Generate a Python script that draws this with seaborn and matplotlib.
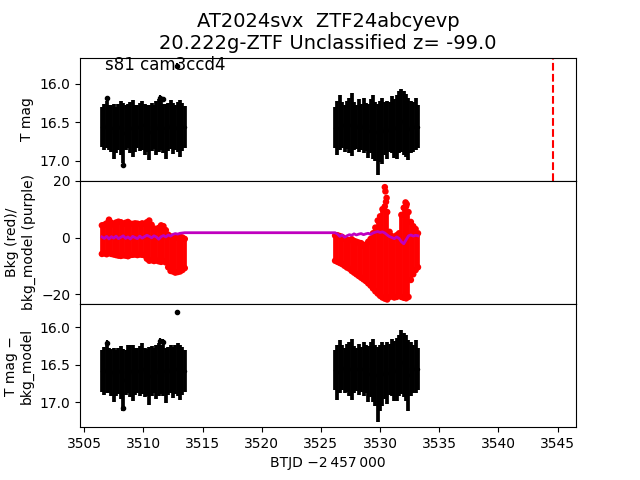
import numpy as np
import matplotlib
matplotlib.use("Agg")
import matplotlib.pyplot as plt
import seaborn as sns

# time stamps of the two sectors (BTJD - 2457000)
t1 = [3506.5, 3506.7, 3506.9, 3507.1, 3507.3, 3507.5, 3507.7, 3507.9, 3508.1, 3508.3,
      3508.5, 3508.7, 3508.9, 3509.1, 3509.3, 3509.5, 3509.7, 3509.9, 3510.1, 3510.3,
      3510.5, 3510.7, 3510.9, 3511.1, 3511.3, 3511.5, 3511.7, 3511.9, 3512.1, 3512.3,
      3512.5, 3512.7, 3512.9, 3513.1, 3513.3, 3513.5]
t2 = [3526.2, 3526.4, 3526.6, 3526.8, 3527.0, 3527.2, 3527.4, 3527.6, 3527.8, 3528.0,
      3528.2, 3528.4, 3528.6, 3528.8, 3529.0, 3529.2, 3529.4, 3529.6, 3529.8, 3530.0,
      3530.2, 3530.4, 3530.6, 3530.8, 3531.0, 3531.2, 3531.4, 3531.6, 3531.8, 3532.0,
      3532.2, 3532.4, 3532.6, 3532.8, 3533.0, 3533.2]

# T mag
mag1 = [16.56, 16.56, 16.53, 16.57, 16.58, 16.62, 16.60, 16.56, 16.57, 16.64,
        16.57, 16.55, 16.57, 16.58, 16.58, 16.56, 16.56, 16.54, 16.59, 16.58,
        16.63, 16.56, 16.56, 16.58, 16.54, 16.54, 16.58, 16.62, 16.56, 16.53,
        16.58, 16.57, 16.56, 16.58, 16.56, 16.56]
err1 = [0.26, 0.30, 0.31, 0.29, 0.30, 0.36, 0.30, 0.30, 0.35, 0.39,
        0.29, 0.29, 0.33, 0.37, 0.31, 0.28, 0.31, 0.32, 0.33, 0.30,
        0.36, 0.31, 0.29, 0.35, 0.34, 0.32, 0.32, 0.36, 0.31, 0.32,
        0.33, 0.29, 0.32, 0.37, 0.31, 0.27]
mag2 = [16.57, 16.57, 16.50, 16.54, 16.58, 16.54, 16.54, 16.53, 16.55, 16.56,
        16.54, 16.56, 16.54, 16.56, 16.61, 16.55, 16.56, 16.62, 16.72, 16.62,
        16.61, 16.58, 16.60, 16.56, 16.53, 16.58, 16.56, 16.50, 16.48, 16.51,
        16.54, 16.59, 16.56, 16.56, 16.52, 16.56]
err2 = [0.27, 0.35, 0.36, 0.30, 0.30, 0.31, 0.36, 0.41, 0.31, 0.29,
        0.34, 0.30, 0.36, 0.31, 0.35, 0.35, 0.42, 0.38, 0.46, 0.40,
        0.43, 0.34, 0.38, 0.32, 0.37, 0.38, 0.42, 0.40, 0.41, 0.41,
        0.41, 0.40, 0.34, 0.32, 0.34, 0.28]
out_t = [3506.9, 3508.3, 3511.4, 3511.7, 3512.85]
out_mag = [16.19, 17.05, 16.18, 16.20, 15.77]
out_err = [0.03, 0.03, 0.03, 0.03, 0.04]

# background (upper / lower edge of the red cloud)
bkg_hi1 = [4.3, 4.5, 5.0, 6.3, 5.2, 4.6, 5.3, 5.6, 5.4, 4.8,
           5.2, 5.5, 4.9, 4.8, 5.0, 4.9, 4.7, 5.0, 4.8, 5.4,
           6.0, 4.5, 3.2, 3.0, 3.4, 4.3, 4.0, 2.6, 1.0, 0.4,
           0.2, 0.0, -0.2, 0.3, 0.0, -0.5]
bkg_lo1 = [-5.8, -5.6, -5.9, -5.5, -5.8, -6.0, -6.2, -6.4, -6.5, -6.3,
           -6.4, -6.6, -6.2, -6.1, -6.0, -6.2, -6.0, -6.1, -6.3, -7.5,
           -8.2, -8.0, -8.3, -8.1, -8.4, -8.6, -8.4, -8.8, -10.5, -11.8,
           -12.0, -12.4, -12.2, -12.0, -11.5, -10.8]
bkg_hi2 = [0.7, 0.8, 0.5, 0.2, -0.5, -0.8, -1.0, -0.6, -1.2, -1.5,
           -1.8, -2.0, -3.0, -2.5, -1.5, -0.5, 1.5, 3.5, 6.0, 7.5,
           10.0, 11.0, 9.0, 2.0, 0.5, 0.0, 0.8, 1.5, 8.0, 10.5,
           11.0, 9.0, 5.5, 4.0, 3.0, 1.5]
bkg_lo2 = [-8.2, -8.6, -9.0, -9.4, -10.0, -10.6, -11.0, -11.8, -12.4, -13.0,
           -13.6, -14.2, -14.8, -15.4, -16.2, -17.0, -18.0, -19.0, -19.8, -20.6,
           -21.2, -21.6, -21.9, -21.0, -20.8, -21.2, -21.0, -20.5, -21.0, -21.3,
           -21.5, -21.0, -15.0, -13.0, -11.5, -10.5]
bkg_out_t = [3530.40, 3530.45, 3530.55, 3530.50, 3532.15, 3532.25]
bkg_out = [17.8, 16.3, 14.0, 12.6, 12.4, 11.8]

# background model
model1 = [0.2, -0.3, 0.4, -0.5, 0.3, -0.2, 0.5, -0.4, 0.1, 0.6,
          -0.3, 0.2, -0.5, 0.4, 0.0, -0.4, 0.5, -0.2, 0.3, 0.8,
          0.4, -0.1, 0.6, 0.2, -0.6, 0.3, 0.7, 0.2, 0.9, 0.5,
          1.1, 1.4, 1.2, 1.5, 1.6, 1.7]
model2 = [1.7, 1.2, 0.4, 0.9, 0.1, 0.6, 1.0, 0.8, 1.3, 0.9,
          1.2, 1.4, 1.0, 1.3, 1.5, 1.1, 1.6, 1.9, 2.1, 1.8,
          2.0, 1.6, 0.9, 0.3, 0.0, -0.4, 0.2, -0.3, -1.5, -2.2,
          -0.8, 0.6, 0.9, 0.5, 0.8, 0.6]

# T mag - bkg_model
cmag1 = [16.58, 16.58, 16.55, 16.58, 16.60, 16.63, 16.61, 16.58, 16.60, 16.70,
         16.60, 16.56, 16.58, 16.61, 16.59, 16.58, 16.58, 16.55, 16.60, 16.60,
         16.65, 16.58, 16.58, 16.60, 16.56, 16.56, 16.58, 16.64, 16.58, 16.56,
         16.60, 16.56, 16.56, 16.60, 16.58, 16.58]
cerr1 = [0.28, 0.32, 0.33, 0.30, 0.31, 0.36, 0.31, 0.31, 0.35, 0.41,
         0.30, 0.32, 0.35, 0.37, 0.31, 0.30, 0.33, 0.34, 0.33, 0.31,
         0.39, 0.33, 0.30, 0.36, 0.35, 0.33, 0.34, 0.37, 0.32, 0.32,
         0.34, 0.33, 0.35, 0.37, 0.32, 0.28]
cmag2 = [16.57, 16.60, 16.52, 16.54, 16.58, 16.54, 16.56, 16.56, 16.56, 16.56,
         16.56, 16.56, 16.56, 16.56, 16.62, 16.56, 16.58, 16.64, 16.76, 16.67,
         16.62, 16.60, 16.61, 16.56, 16.54, 16.58, 16.56, 16.51, 16.46, 16.50,
         16.54, 16.64, 16.56, 16.56, 16.52, 16.56]
cerr2 = [0.27, 0.37, 0.35, 0.30, 0.30, 0.32, 0.36, 0.41, 0.31, 0.29,
         0.34, 0.30, 0.36, 0.32, 0.37, 0.37, 0.42, 0.41, 0.50, 0.44,
         0.43, 0.36, 0.41, 0.34, 0.38, 0.40, 0.42, 0.41, 0.43, 0.43,
         0.44, 0.47, 0.36, 0.32, 0.35, 0.28]
cout_mag = [16.21, 17.07, 16.18, 16.19, 15.80]
cout_err = [0.035, 0.035, 0.035, 0.035, 0.035]

t_disc = 3544.64
title = "AT2024svx  ZTF24abcyevp\n20.222g-ZTF Unclassified z= -99.0"
sector_label = "s81 cam3ccd4"

t = np.concatenate([t1, t2])
mag = np.concatenate([mag1, mag2])
err = np.concatenate([err1, err2])
bkg_hi = np.concatenate([bkg_hi1, bkg_hi2])
bkg_lo = np.concatenate([bkg_lo1, bkg_lo2])
model = np.concatenate([model1, model2])
cmag = np.concatenate([cmag1, cmag2])
cerr = np.concatenate([cerr1, cerr2])

fig, axes = plt.subplots(3, 1, sharex=True, figsize=(6.4, 4.8), dpi=100)
fig.subplots_adjust(hspace=0)

# top: T mag
ax = axes[0]
ax.errorbar(t, mag, yerr=err, fmt='.', color='k', ms=3, elinewidth=2.7, capsize=0)
ax.errorbar(out_t, out_mag, yerr=out_err, fmt='.', color='k', ms=6, elinewidth=1.5, capsize=0)
ax.axvline(t_disc, color='r', ls='--', lw=1.5)
ax.set_ylim(17.26, 15.66)
ax.set_yticks([16.0, 16.5, 17.0])
ax.set_ylabel("T mag")
ax.set_title(title, fontsize=14)
ax.text(0.05, 0.9, sector_label, transform=ax.transAxes, fontsize=12)
ax.tick_params(axis='x', bottom=False)

# middle: background and model
ax = axes[1]
ax.vlines(t, bkg_lo, bkg_hi, color='r', lw=2.7)
sns.scatterplot(x=t, y=bkg_hi, color='r', s=22, edgecolor='none', ax=ax)
sns.scatterplot(x=t, y=bkg_lo, color='r', s=22, edgecolor='none', ax=ax)
sns.scatterplot(x=bkg_out_t, y=bkg_out, color='r', s=22, edgecolor='none', ax=ax)
sns.lineplot(x=t, y=model, color='m', lw=2, estimator=None, sort=False, ax=ax)
ax.set_ylim(-23.5, 20.05)
ax.set_yticks([-20, 0, 20])
ax.set_ylabel("Bkg (red)/\nbkg_model (purple)")
ax.tick_params(axis='x', bottom=False)

# bottom: T mag - bkg_model
ax = axes[2]
ax.errorbar(t, cmag, yerr=cerr, fmt='.', color='k', ms=3, elinewidth=2.7, capsize=0)
ax.errorbar(out_t, cout_mag, yerr=cout_err, fmt='.', color='k', ms=6, elinewidth=1.5, capsize=0)
ax.set_ylim(17.33, 15.69)
ax.set_yticks([16.0, 16.5, 17.0])
ax.set_ylabel("T mag \u2212\nbkg_model")
ax.set_xlim(3504.65, 3546.55)
ax.set_xticks([3505, 3510, 3515, 3520, 3525, 3530, 3535, 3540, 3545])
ax.set_xlabel("BTJD \u22122\u2009457\u2009000")

fig.savefig("out.png", dpi=100)
